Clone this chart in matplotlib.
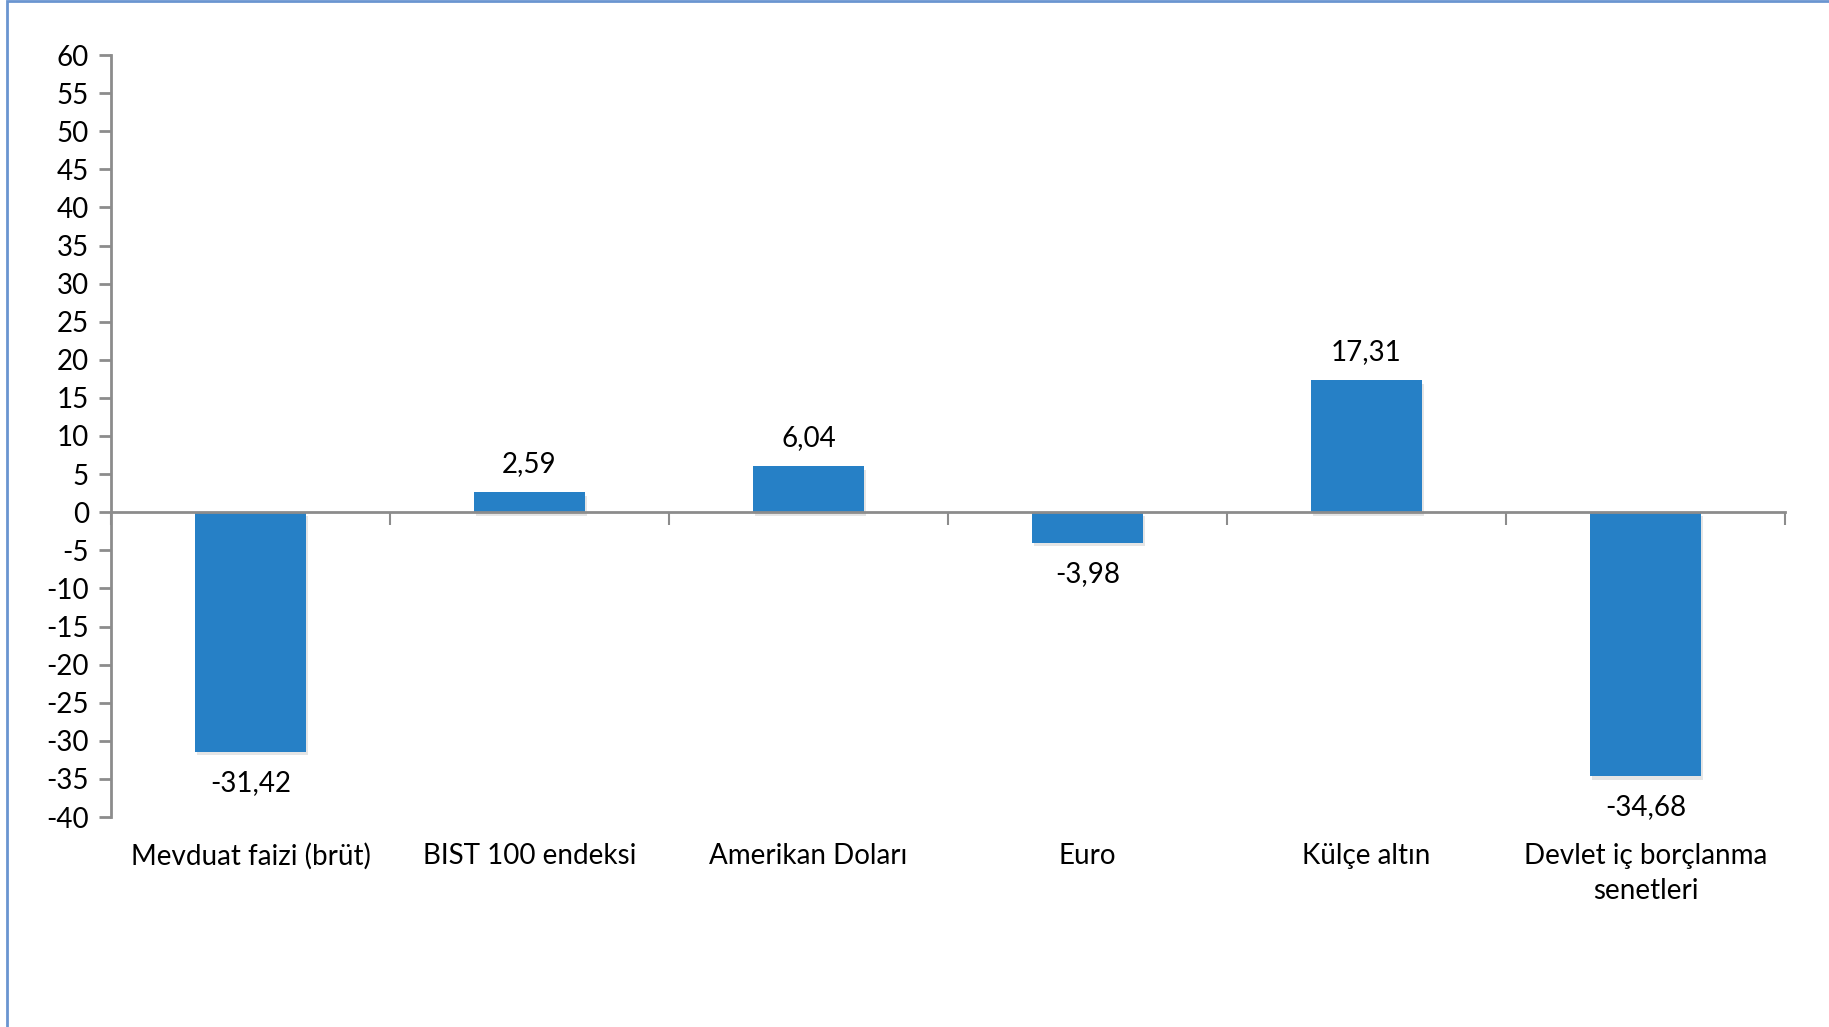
import matplotlib.pyplot as plt
import matplotlib.patheffects as pe
from matplotlib.patches import Rectangle
from matplotlib.transforms import blended_transform_factory

plt.rcParams['font.family'] = ['Lato', 'DejaVu Sans']

# Data
categories = ["Mevduat faizi (brüt)", "BIST 100 endeksi", "Amerikan Doları",
              "Euro", "Külçe altın", "Devlet iç borçlanma\nsenetleri"]
values = [-31.42, 2.59, 6.04, -3.98, 17.31, -34.68]
value_labels = ["-31,42", "2,59", "6,04", "-3,98", "17,31", "-34,68"]
y_ticks = list(range(-40, 61, 5))

bar_color = "#2680C6"
axis_color = "#8C8C8C"
fs = 20

fig = plt.figure(figsize=(18.29, 10.27), dpi=100)
ax = fig.add_axes([111 / 1829, 1 - 817 / 1027, (1785 - 111) / 1829, (817 - 55) / 1027])

x = list(range(len(categories)))
bars = ax.bar(x, values, width=0.40, color=bar_color, zorder=3)
for b in bars:
    b.set_path_effects([pe.SimplePatchShadow(offset=(1.5, -2.5), shadow_rgbFace="#9a9a9a", alpha=0.25),
                        pe.Normal()])

ax.set_xlim(-0.5, len(categories) - 0.5)
ax.set_ylim(-40, 60)
ax.set_yticks(y_ticks)
ax.set_yticklabels([str(t) for t in y_ticks], fontsize=fs)

# spines
for s in ["top", "right"]:
    ax.spines[s].set_visible(False)
ax.spines["left"].set_color(axis_color)
ax.spines["left"].set_linewidth(2)
ax.spines["bottom"].set_position(("data", 0))
ax.spines["bottom"].set_color(axis_color)
ax.spines["bottom"].set_linewidth(2)
ax.spines["bottom"].set_zorder(4)

ax.tick_params(axis="y", direction="out", length=9, width=2, color=axis_color, pad=7)
ax.set_xticks([i - 0.5 for i in range(len(categories) + 1)])
ax.set_xticklabels([])
ax.tick_params(axis="x", direction="out", length=9, width=1.5, color=axis_color)

# value labels
for xi, v, lab in zip(x, values, value_labels):
    if v >= 0:
        ax.annotate(lab, (xi, v), xytext=(0, 11), textcoords="offset points",
                    ha="center", va="bottom", fontsize=fs)
    else:
        ax.annotate(lab, (xi, v), xytext=(0, -13), textcoords="offset points",
                    ha="center", va="top", fontsize=fs)

# category labels below the plot area
trans = blended_transform_factory(ax.transData, ax.transAxes)
for xi, cat in zip(x, categories):
    ax.text(xi, -0.034, cat, transform=trans, ha="center", va="top",
            fontsize=fs, linespacing=1.45)

# outer frame (left and top edges visible)
fig.patches.append(Rectangle((7 / 1829, -0.1), 1.2, 1 - 1 / 1027 + 0.1,
                             transform=fig.transFigure, fill=False,
                             edgecolor="#6A95D0", linewidth=2))

fig.savefig("out.png", dpi=100)
